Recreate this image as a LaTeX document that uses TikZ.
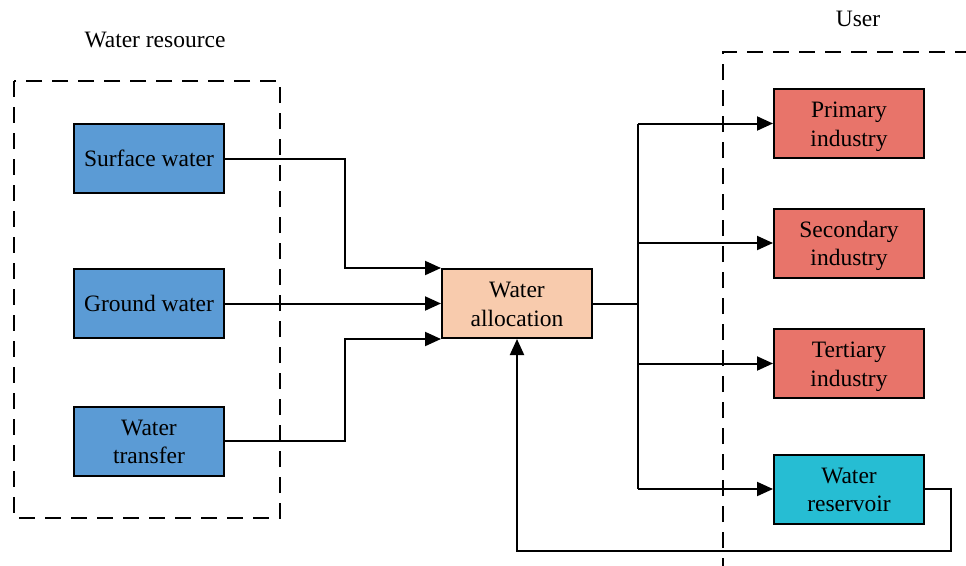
\documentclass[tikz,border=0pt]{standalone}
\usepackage{fontspec}
\setmainfont{Liberation Serif}
\usetikzlibrary{arrows.meta}
\definecolor{srcblue}{HTML}{5B9BD5}
\definecolor{allocpeach}{HTML}{F8CBAD}
\definecolor{userred}{HTML}{E8746A}
\definecolor{rescyan}{HTML}{26BDD3}
\newcommand\twolines[2]{\rule{0pt}{17pt}\smash{#1}\\\smash{#2}\rule[-0.5pt]{0pt}{0.5pt}}
\tikzset{
  box/.style={draw=black, line width=2pt, minimum width=150pt, minimum height=69pt, inner sep=0pt, align=center, font=\fontsize{23.5}{28.5}\selectfont},
  conn/.style={line width=2pt},
  arr/.style={conn, -{Triangle[length=16pt,width=14pt]}},
  dbox/.style={line width=2pt, dash pattern=on 16pt off 10pt},
  lbl/.style={font=\fontsize{23.5}{28.5}\selectfont, anchor=base, inner sep=0pt}
}
\begin{document}
\begin{tikzpicture}[x=1pt,y=-1pt]
\useasboundingbox (0,0) rectangle (966,565);
\clip (0,0) rectangle (966,565);
% dashed groups
\draw[dbox] (14,81) rectangle (280,518);
\draw[dbox] (723,600) -- (723,52) -- (1000,52);
\node[lbl] (wr) at (155,47.5) {Water resource};
\node[lbl] (us) at (858,26.5) {User};
% source nodes
\node[box, fill=srcblue] (sw) at (149,158.5) {Surface water};
\node[box, fill=srcblue] (gw) at (149,303.5) {Ground water};
\node[box, fill=srcblue] (wt) at (149,441) {\twolines{Water}{transfer}};
% allocation
\node[box, fill=allocpeach] (wa) at (517,303.5) {\twolines{Water}{allocation}};
% users
\node[box, fill=userred] (pi) at (849,123.5) {\twolines{Primary}{industry}};
\node[box, fill=userred] (si) at (849,243) {\twolines{Secondary}{industry}};
\node[box, fill=userred] (ti) at (849,363.5) {\twolines{Tertiary}{industry}};
\node[box, fill=rescyan] (rv) at (849,489) {\twolines{Water}{reservoir}};
% connectors
\coordinate (jl) at (345,0);
\coordinate (jr) at (638,0);
\draw[arr] (sw.east) -| (jl |- wa.north west) -- (wa.north west);
\draw[arr] (gw.east) -- (wa.west);
\draw[arr] (wt.east) -| (jl |- wa.south west) -- (wa.south west);
\draw[conn] (wa.east) -- (jr |- wa.east);
\draw[conn] (jr |- pi.west) -- (jr |- rv.west);
\draw[arr] (jr |- pi.west) -- (pi.west);
\draw[arr] (jr |- si.west) -- (si.west);
\draw[arr] (jr |- ti.west) -- (ti.west);
\draw[arr] (jr |- rv.west) -- (rv.west);
\coordinate (fb1) at (951,489);
\coordinate (fb2) at (951,551);
\draw[arr] (rv.east) -- (fb1) -- (fb2) -- (wa.south |- fb2) -- (wa.south);
\end{tikzpicture}
\end{document}
